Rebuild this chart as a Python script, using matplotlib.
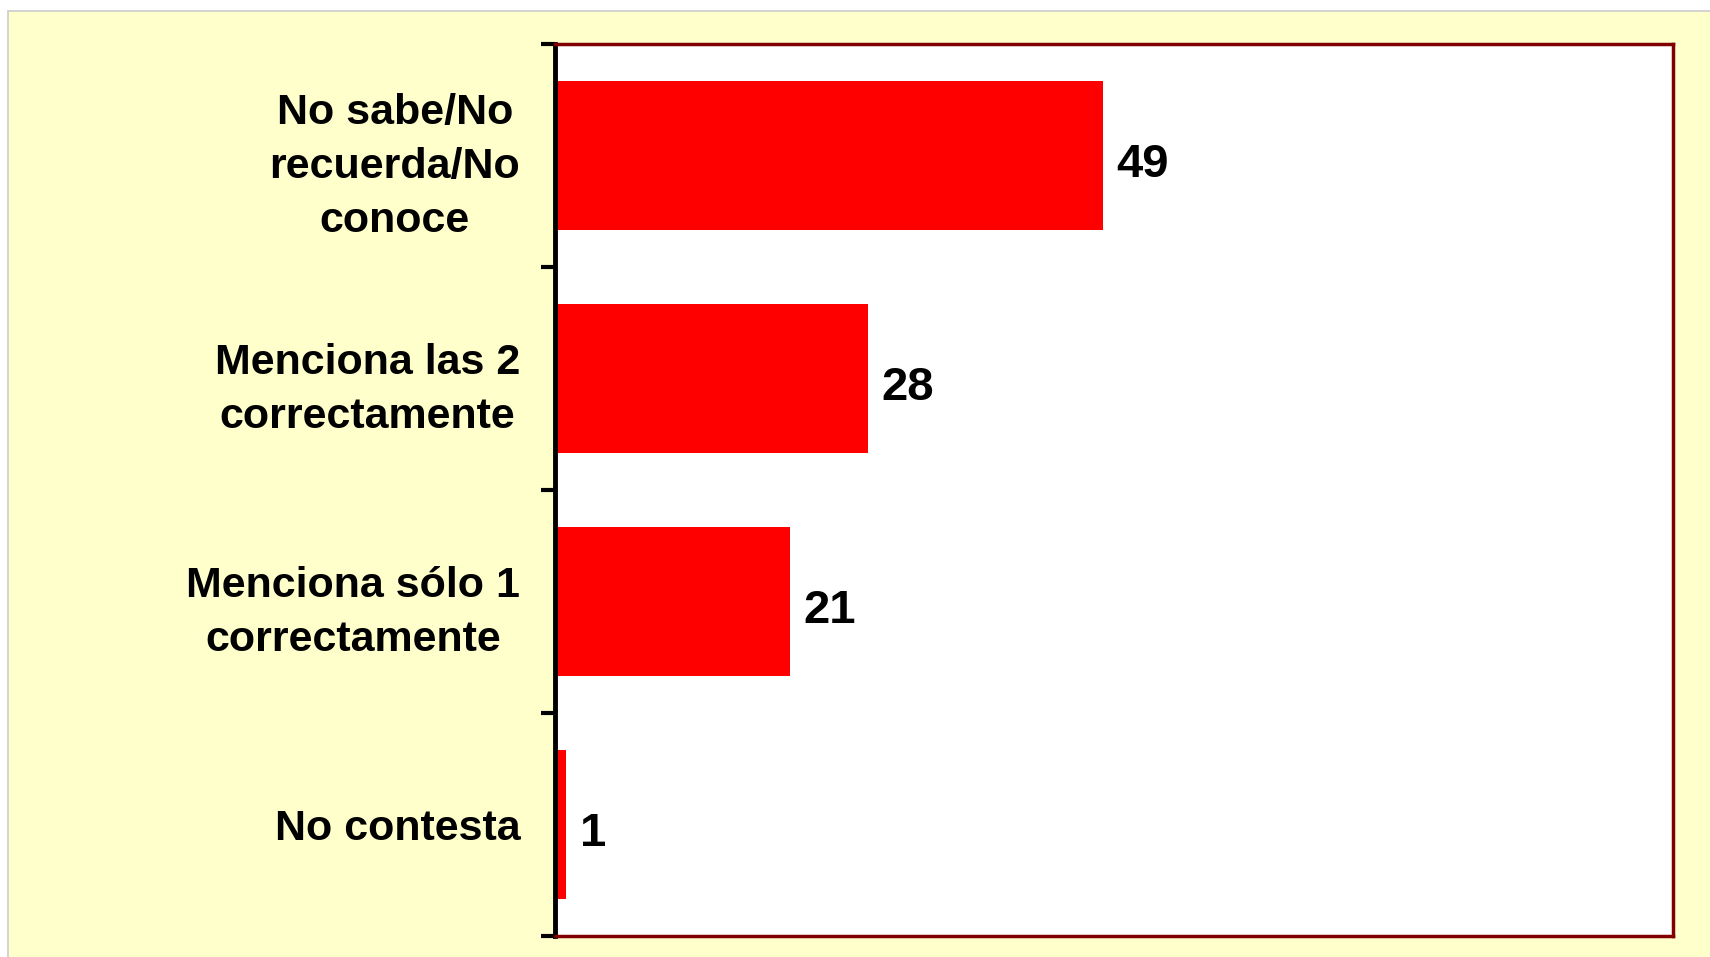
import matplotlib.pyplot as plt
from matplotlib.patches import Rectangle

categories = ['No sabe/No\nrecuerda/No\nconoce',
              'Menciona las 2\ncorrectamente',
              'Menciona sólo 1\ncorrectamente',
              'No contesta']
values = [49, 28, 21, 1]

W, H = 1710, 957
fig = plt.figure(figsize=(W / 100, H / 100), dpi=100, facecolor='white')

# yellow slide background with thin grey edge
bg = Rectangle((8 / W, -0.01), 1.0, (H - 11) / H + 0.01, transform=fig.transFigure,
               facecolor='#FFFFCC', edgecolor='#CCCCCC', linewidth=1.2, zorder=-10)
fig.patches.append(bg)

ax = fig.add_axes([555 / W, 1 - 936 / H, (1673 - 555) / W, (936 - 44) / H])
ax.set_facecolor('white')

y = list(range(len(categories)))
ax.barh(y, values, height=0.67, color='#FF0000', edgecolor='none')
ax.set_xlim(0, 100)
ax.set_ylim(len(categories) - 0.5, -0.5)

for yi, v in zip(y, values):
    ax.text(v + 1.2, yi + 0.02, str(v), va='center_baseline', ha='left', fontsize=34,
            fontweight='bold', family='Liberation Sans')

ax.set_yticks(y)
ax.set_yticklabels(categories, fontsize=31, fontweight='bold',
                   family='Liberation Sans', ha='right', multialignment='center',
                   linespacing=1.45)
ax.tick_params(axis='y', length=0, pad=25)
# tick marks at category boundaries
ax.set_yticks([i - 0.5 for i in range(len(categories) + 1)], minor=True)
ax.tick_params(axis='y', which='minor', length=10, width=3, direction='out', color='black')
ax.set_xticks([])

ax.spines['left'].set_color('black')
ax.spines['left'].set_linewidth(3.5)
for s in ['top', 'right', 'bottom']:
    ax.spines[s].set_color('#800000')
    ax.spines[s].set_linewidth(2.5)

fig.savefig('out.png', dpi=100, facecolor=fig.get_facecolor())
